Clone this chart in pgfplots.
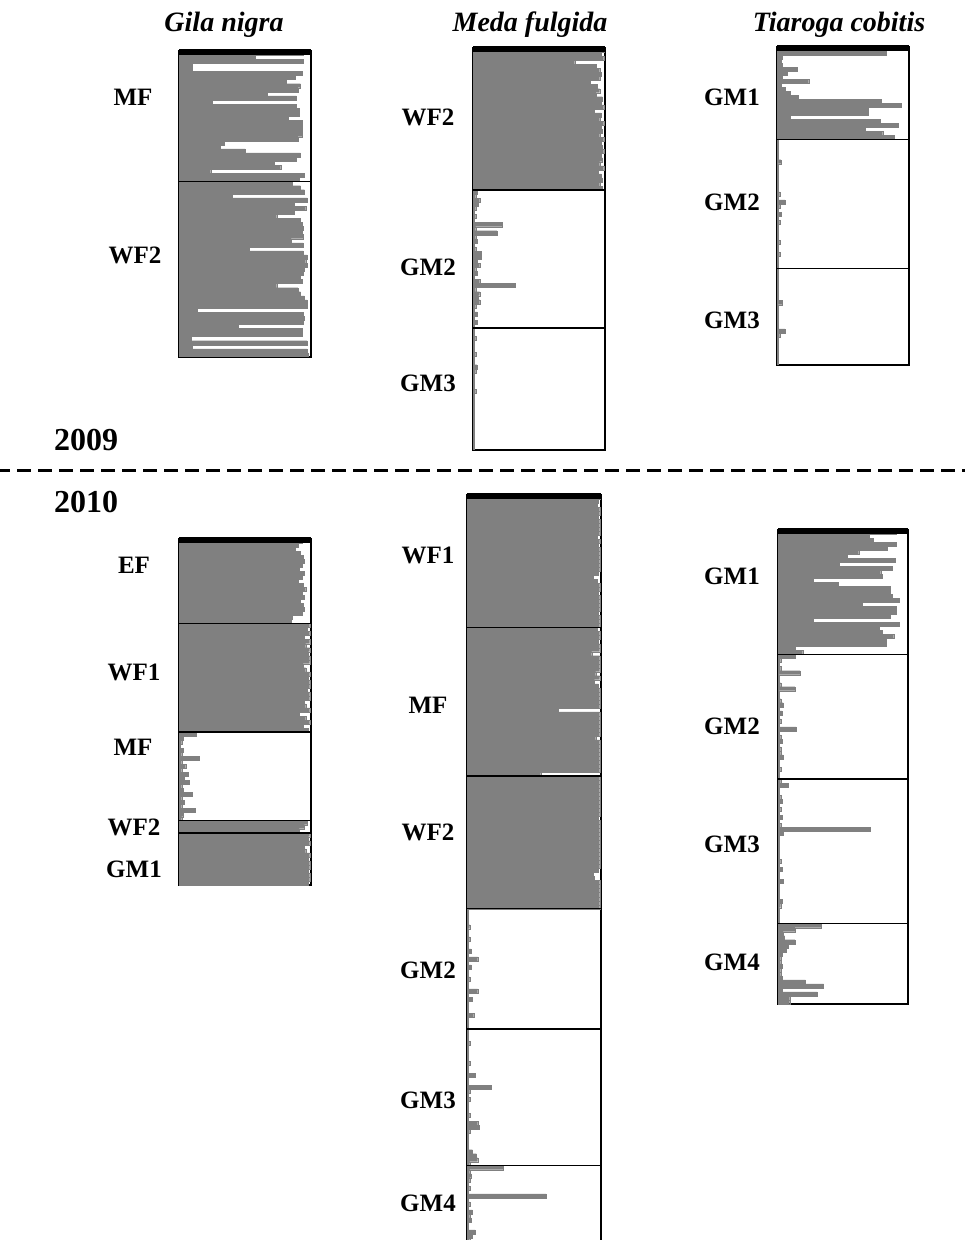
\documentclass[border=0pt]{standalone}
\usepackage{pgfplots}
\pgfplotsset{compat=1.18}
\usepackage{fontspec}
\setmainfont{Liberation Serif}
\definecolor{barg}{RGB}{128,128,128}
\newcommand{\lab}{\fontsize{12.5}{14}\selectfont\bfseries}
\newcommand{\ttl}{\fontsize{14}{16}\selectfont\bfseries\itshape}
\newcommand{\yr}{\fontsize{16}{18}\selectfont\bfseries}
\pgfplotsset{struct/.style={scale only axis, anchor=north west, xmin=0, xmax=1, ymin=0,
  y dir=reverse, axis line style={line width=1.2pt}, ticks=none, clip mode=individual,
  xbar, bar width=1},
  bars/.style={fill=barg, draw=barg, line width=0.1pt}}
\begin{document}
\begin{tikzpicture}[x=0.5pt,y=-0.5pt]
\useasboundingbox (0,0) rectangle (965,1240);
% titles
\node[font=\ttl] at (224,25) {Gila nigra};
\node[font=\ttl] at (530,25) {Meda fulgida};
\node[font=\ttl] at (839,25) {Tiaroga cobitis};
% years and divider
\node[font=\yr, anchor=west] at (47,440) {2009};
\node[font=\yr, anchor=west] at (47,502) {2010};
\draw[line width=1.5pt, dash pattern=on 7pt off 3.5pt, dash phase=2pt] (0,470) -- (965,470);
% ---------- 2009 Gila nigra ----------
\begin{axis}[struct, at={(89.5pt,-25.5pt)}, width=66pt, height=153pt, ymax=75]
\addplot[bars] coordinates {
(0.94,0.5) (0.58,1.5) (0.94,2.5) (0.10,3.5) (0.10,4.5) (0.93,5.5) (0.88,6.5) (0.81,7.5) (0.92,8.5) (0.90,9.5)
(0.67,10.5) (0.89,11.5) (0.25,12.5) (0.89,13.5) (0.91,14.5) (0.91,15.5) (0.83,16.5) (0.93,17.5) (0.93,18.5) (0.93,19.5)
(0.93,20.5) (0.90,21.5) (0.34,22.5) (0.31,23.5) (0.50,24.5) (0.92,25.5) (0.89,26.5) (0.72,27.5) (0.77,28.5) (0.24,29.5)
(0.95,30.5) (0.91,31.5) (0.86,32.5) (0.92,33.5) (0.95,34.5) (0.40,35.5) (0.97,36.5) (0.87,37.5) (0.96,38.5) (0.87,39.5)
(0.74,40.5) (0.92,41.5) (0.93,42.5) (0.94,43.5) (0.93,44.5) (0.94,45.5) (0.85,46.5) (0.94,47.5) (0.53,48.5) (0.94,49.5)
(0.97,50.5) (0.96,51.5) (0.97,52.5) (0.95,53.5) (0.94,54.5) (0.92,55.5) (0.93,56.5) (0.74,57.5) (0.90,58.5) (0.92,59.5)
(0.95,60.5) (0.97,61.5) (0.97,62.5) (0.14,63.5) (0.94,64.5) (0.95,65.5) (0.94,66.5) (0.45,67.5) (0.93,68.5) (0.93,69.5)
(0.09,70.5) (0.97,71.5) (0.10,72.5) (0.97,73.5) (0.98,74.5)};
\draw[line width=0.8pt] (axis cs:0,32) -- (axis cs:1,32);
\draw[line width=2.8pt] ([yshift=-0.6pt]axis cs:0,0) -- ([yshift=-0.6pt]axis cs:1,0);
\end{axis}
\node[font=\lab] at (133,97) {MF};
\node[font=\lab] at (135,255) {WF2};
% ---------- 2009 Meda fulgida ----------
\begin{axis}[struct, at={(236.5pt,-24pt)}, width=66pt, height=201pt, ymax=99]
\addplot[bars] coordinates {
(0.99,0.5) (0.97,1.5) (0.99,2.5) (0.77,3.5) (0.93,4.5) (0.96,5.5) (0.97,6.5) (0.96,7.5) (0.89,8.5) (0.94,9.5)
(0.96,10.5) (0.93,11.5) (0.98,12.5) (0.97,13.5) (0.99,14.5) (0.92,15.5) (0.97,16.5) (0.96,17.5) (0.99,18.5) (0.97,19.5)
(0.98,20.5) (0.96,21.5) (0.99,22.5) (0.97,23.5) (0.98,24.5) (0.99,25.5) (0.97,26.5) (0.98,27.5) (0.96,28.5) (0.99,29.5)
(0.95,30.5) (0.97,31.5) (0.98,32.5) (0.96,33.5) (0.98,34.5)
(0.03,35.5) (0.02,36.5) (0.05,37.5) (0.04,38.5) (0.02,39.5) (0.01,40.5) (0.02,41.5) (0.01,42.5) (0.22,43.5) (0.02,44.5)
(0.18,45.5) (0.02,46.5) (0.03,47.5) (0.01,48.5) (0.02,49.5) (0.06,50.5) (0.06,51.5) (0.03,52.5) (0.05,53.5) (0.02,54.5)
(0.03,55.5) (0.01,56.5) (0.05,57.5) (0.32,58.5) (0.02,59.5) (0.05,60.5) (0.04,61.5) (0.05,62.5) (0.02,63.5) (0.01,64.5)
(0.03,65.5) (0.01,66.5) (0.03,67.5) (0.01,68.5)
(0.01,69.5) (0.01,70.5) (0.02,71.5) (0.01,72.5) (0.01,73.5) (0.01,74.5) (0.02,75.5) (0.01,76.5) (0.01,77.5) (0.03,78.5)
(0.02,79.5) (0.01,80.5) (0.01,81.5) (0.01,82.5) (0.01,83.5) (0.02,84.5) (0.01,85.5) (0.01,86.5) (0.01,87.5) (0.01,88.5)
(0.01,89.5) (0.01,90.5) (0.01,91.5) (0.01,92.5) (0.01,93.5) (0.01,94.5) (0.01,95.5) (0.01,96.5) (0.01,97.5) (0.01,98.5)};
\draw[line width=0.8pt] (axis cs:0,35) -- (axis cs:1,35);
\draw[line width=0.8pt] (axis cs:0,69) -- (axis cs:1,69);
\draw[line width=2.8pt] ([yshift=-0.6pt]axis cs:0,0) -- ([yshift=-0.6pt]axis cs:1,0);
\end{axis}
\node[font=\lab] at (428,117) {WF2};
\node[font=\lab] at (428,267) {GM2};
\node[font=\lab] at (428,383) {GM3};
% ---------- 2009 Tiaroga cobitis ----------
\begin{axis}[struct, at={(388.5pt,-23.5pt)}, width=66pt, height=159pt, ymax=79]
\addplot[bars] coordinates {
(0.83,0.5) (0.83,1.5) (0.04,2.5) (0.03,3.5) (0.04,4.5) (0.15,5.5) (0.08,6.5) (0.04,7.5) (0.24,8.5) (0.03,9.5)
(0.06,10.5) (0.10,11.5) (0.16,12.5) (0.79,13.5) (0.94,14.5) (0.69,15.5) (0.69,16.5) (0.10,17.5) (0.78,18.5) (0.92,19.5)
(0.67,20.5) (0.80,21.5) (0.89,22.5)
(0.01,23.5) (0.01,24.5) (0.01,25.5) (0.01,26.5) (0.01,27.5) (0.03,28.5) (0.01,29.5) (0.01,30.5) (0.01,31.5) (0.01,32.5)
(0.01,33.5) (0.01,34.5) (0.01,35.5) (0.02,36.5) (0.01,37.5) (0.06,38.5) (0.02,39.5) (0.01,40.5) (0.03,41.5) (0.01,42.5)
(0.02,43.5) (0.01,44.5) (0.01,45.5) (0.01,46.5) (0.01,47.5) (0.02,48.5) (0.01,49.5) (0.01,50.5) (0.02,51.5) (0.01,52.5)
(0.01,53.5) (0.01,54.5)
(0.01,55.5) (0.01,56.5) (0.01,57.5) (0.01,58.5) (0.01,59.5) (0.01,60.5) (0.01,61.5) (0.01,62.5) (0.04,63.5) (0.01,64.5)
(0.01,65.5) (0.01,66.5) (0.01,67.5) (0.01,68.5) (0.01,69.5) (0.06,70.5) (0.02,71.5) (0.01,72.5) (0.01,73.5) (0.01,74.5)
(0.01,75.5) (0.01,76.5) (0.01,77.5) (0.01,78.5)};
\draw[line width=0.8pt] (axis cs:0,23) -- (axis cs:1,23);
\draw[line width=0.8pt] (axis cs:0,55) -- (axis cs:1,55);
\draw[line width=2.8pt] ([yshift=-0.6pt]axis cs:0,0) -- ([yshift=-0.6pt]axis cs:1,0);
\end{axis}
\node[font=\lab] at (732,97) {GM1};
\node[font=\lab] at (732,202) {GM2};
\node[font=\lab] at (732,320) {GM3};
% ---------- 2010 Gila nigra ----------
\begin{axis}[struct, at={(89.5pt,-269.5pt)}, width=66pt, height=173pt, ymax=86]
\addplot[bars] coordinates {
(0.93,0.5) (0.90,1.5) (0.88,2.5) (0.92,3.5) (0.94,4.5) (0.95,5.5) (0.93,6.5) (0.91,7.5) (0.95,8.5) (0.93,9.5)
(0.90,10.5) (0.94,11.5) (0.96,12.5) (0.93,13.5) (0.95,14.5) (0.92,15.5) (0.94,16.5) (0.95,17.5) (0.93,18.5) (0.86,19.5)
(0.85,20.5)
(0.99,21.5) (0.97,22.5) (0.99,23.5) (0.95,24.5) (0.99,25.5) (0.96,26.5) (0.99,27.5) (0.98,28.5) (0.99,29.5) (0.99,30.5)
(0.94,31.5) (0.96,32.5) (0.99,33.5) (0.98,34.5) (0.99,35.5) (0.99,36.5) (0.97,37.5) (0.99,38.5) (0.99,39.5) (0.95,40.5)
(0.96,41.5) (0.99,42.5) (0.91,43.5) (0.96,44.5) (0.99,45.5) (0.94,46.5) (0.98,47.5)
(0.13,48.5) (0.03,49.5) (0.02,50.5) (0.01,51.5) (0.03,52.5) (0.02,53.5) (0.15,54.5) (0.02,55.5) (0.05,56.5) (0.02,57.5)
(0.07,58.5) (0.04,59.5) (0.08,60.5) (0.02,61.5) (0.03,62.5) (0.10,63.5) (0.02,64.5) (0.04,65.5) (0.02,66.5) (0.12,67.5)
(0.03,68.5) (0.02,69.5)
(0.97,70.5) (0.95,71.5) (0.91,72.5)
(0.99,73.5) (0.98,74.5) (0.99,75.5) (0.95,76.5) (0.96,77.5) (0.99,78.5) (0.98,79.5) (0.99,80.5) (0.99,81.5) (0.98,82.5)
(0.99,83.5) (0.99,84.5) (0.98,85.5)};
\draw[line width=0.8pt] (axis cs:0,21) -- (axis cs:1,21);
\draw[line width=0.8pt] (axis cs:0,48) -- (axis cs:1,48);
\draw[line width=0.8pt] (axis cs:0,70) -- (axis cs:1,70);
\draw[line width=0.8pt] (axis cs:0,73) -- (axis cs:1,73);
\draw[line width=2.8pt] ([yshift=-0.6pt]axis cs:0,0) -- ([yshift=-0.6pt]axis cs:1,0);
\end{axis}
\node[font=\lab] at (134,565) {EF};
\node[font=\lab] at (134,672) {WF1};
\node[font=\lab] at (133,747) {MF};
\node[font=\lab] at (134,827) {WF2};
\node[font=\lab] at (134,869) {GM1};
% ---------- 2010 Meda fulgida ----------
\begin{axis}[struct, at={(233.5pt,-247.5pt)}, width=67pt, height=377.5pt, ymax=188]
\addplot[bars] coordinates {
(0.99,0.5) (0.98,1.5) (0.97,2.5) (0.99,3.5) (0.99,4.5) (0.98,5.5) (0.99,6.5) (0.99,7.5) (0.99,8.5) (0.99,9.5)
(0.97,10.5) (0.99,11.5) (0.98,12.5) (0.99,13.5) (0.99,14.5) (0.99,15.5) (0.99,16.5) (0.99,17.5) (0.99,18.5) (0.98,19.5)
(0.94,20.5) (0.97,21.5) (0.99,22.5) (0.99,23.5) (0.98,24.5) (0.99,25.5) (0.99,26.5) (0.99,27.5) (0.99,28.5) (0.98,29.5)
(0.99,30.5) (0.99,31.5) (0.99,32.5)
(0.97,33.5) (0.99,34.5) (0.99,35.5) (0.98,36.5) (0.99,37.5) (0.99,38.5) (0.93,39.5) (0.99,40.5) (0.99,41.5) (0.99,42.5)
(0.99,43.5) (0.96,44.5) (0.99,45.5) (0.95,46.5) (0.98,47.5) (0.99,48.5) (0.99,49.5) (0.99,50.5) (0.99,51.5) (0.99,52.5)
(0.68,53.5) (0.99,54.5) (0.99,55.5) (0.99,56.5) (0.99,57.5) (0.99,58.5) (0.99,59.5) (0.96,60.5) (0.99,61.5) (0.99,62.5)
(0.99,63.5) (0.99,64.5) (0.99,65.5) (0.99,66.5) (0.99,67.5) (0.99,68.5) (0.55,69.5)
(0.99,70.5) (0.99,71.5) (0.99,72.5) (0.99,73.5) (0.99,74.5) (0.99,75.5) (0.99,76.5) (0.99,77.5) (0.99,78.5) (0.99,79.5)
(0.98,80.5) (0.99,81.5) (0.99,82.5) (0.99,83.5) (0.99,84.5) (0.99,85.5) (0.99,86.5) (0.99,87.5) (0.99,88.5) (0.99,89.5)
(0.99,90.5) (0.99,91.5) (0.99,92.5) (0.98,93.5) (0.94,94.5) (0.95,95.5) (0.99,96.5) (0.99,97.5) (0.99,98.5) (0.99,99.5)
(0.99,100.5) (0.99,101.5) (0.99,102.5)
(0.01,103.5) (0.01,104.5) (0.01,105.5) (0.01,106.5) (0.02,107.5) (0.01,108.5) (0.01,109.5) (0.02,110.5) (0.01,111.5) (0.01,112.5)
(0.03,113.5) (0.01,114.5) (0.08,115.5) (0.01,116.5) (0.03,117.5) (0.01,118.5) (0.01,119.5) (0.02,120.5) (0.01,121.5) (0.01,122.5)
(0.08,123.5) (0.01,124.5) (0.04,125.5) (0.01,126.5) (0.01,127.5) (0.01,128.5) (0.05,129.5) (0.01,130.5) (0.01,131.5) (0.01,132.5)
(0.01,133.5) (0.01,134.5) (0.01,135.5) (0.02,136.5) (0.01,137.5) (0.01,138.5) (0.01,139.5) (0.01,140.5) (0.02,141.5) (0.01,142.5)
(0.01,143.5) (0.06,144.5) (0.01,145.5) (0.01,146.5) (0.18,147.5) (0.02,148.5) (0.01,149.5) (0.02,150.5) (0.01,151.5) (0.01,152.5)
(0.01,153.5) (0.02,154.5) (0.01,155.5) (0.08,156.5) (0.09,157.5) (0.02,158.5) (0.01,159.5) (0.01,160.5) (0.01,161.5) (0.01,162.5)
(0.04,163.5) (0.07,164.5) (0.08,165.5) (0.02,166.5)
(0.27,167.5) (0.02,168.5) (0.03,169.5) (0.02,170.5) (0.01,171.5) (0.02,172.5) (0.01,173.5) (0.59,174.5) (0.01,175.5) (0.02,176.5)
(0.01,177.5) (0.04,178.5) (0.02,179.5) (0.03,180.5) (0.01,181.5) (0.01,182.5) (0.06,183.5) (0.04,184.5) (0.02,185.5) (0.01,186.5)
(0.01,187.5)};
\draw[line width=0.8pt] (axis cs:0,33) -- (axis cs:1,33);
\draw[line width=0.8pt] (axis cs:0,70) -- (axis cs:1,70);
\draw[line width=0.8pt] (axis cs:0,103) -- (axis cs:1,103);
\draw[line width=0.8pt] (axis cs:0,133) -- (axis cs:1,133);
\draw[line width=0.8pt] (axis cs:0,167) -- (axis cs:1,167);
\draw[line width=2.8pt] ([yshift=-0.6pt]axis cs:0,0) -- ([yshift=-0.6pt]axis cs:1,0);
\end{axis}
\node[font=\lab] at (428,555) {WF1};
\node[font=\lab] at (428,705) {MF};
\node[font=\lab] at (428,832) {WF2};
\node[font=\lab] at (428,970) {GM2};
\node[font=\lab] at (428,1100) {GM3};
\node[font=\lab] at (428,1203) {GM4};
% ---------- 2010 Tiaroga cobitis ----------
\begin{axis}[struct, at={(389pt,-265pt)}, width=65pt, height=237pt, ymax=118]
\addplot[bars] coordinates {
(0.91,0.5) (0.70,1.5) (0.73,2.5) (0.91,3.5) (0.84,4.5) (0.62,5.5) (0.53,6.5) (0.90,7.5) (0.47,8.5) (0.88,9.5)
(0.79,10.5) (0.80,11.5) (0.27,12.5) (0.46,13.5) (0.86,14.5) (0.86,15.5) (0.88,16.5) (0.93,17.5) (0.65,18.5) (0.91,19.5)
(0.91,20.5) (0.86,21.5) (0.27,22.5) (0.93,23.5) (0.78,24.5) (0.80,25.5) (0.89,26.5) (0.83,27.5) (0.83,28.5) (0.13,29.5)
(0.19,30.5)
(0.13,31.5) (0.02,32.5) (0.01,33.5) (0.02,34.5) (0.17,35.5) (0.01,36.5) (0.01,37.5) (0.02,38.5) (0.13,39.5) (0.01,40.5)
(0.01,41.5) (0.02,42.5) (0.04,43.5) (0.01,44.5) (0.03,45.5) (0.01,46.5) (0.02,47.5) (0.01,48.5) (0.14,49.5) (0.01,50.5)
(0.02,51.5) (0.03,52.5) (0.01,53.5) (0.02,54.5) (0.02,55.5) (0.04,56.5) (0.01,57.5) (0.01,58.5) (0.02,59.5) (0.01,60.5)
(0.01,61.5)
(0.02,62.5) (0.08,63.5) (0.01,64.5) (0.01,65.5) (0.02,66.5) (0.03,67.5) (0.01,68.5) (0.02,69.5) (0.01,70.5) (0.03,71.5)
(0.01,72.5) (0.02,73.5) (0.71,74.5) (0.04,75.5) (0.01,76.5) (0.01,77.5) (0.01,78.5) (0.01,79.5) (0.01,80.5) (0.01,81.5)
(0.02,82.5) (0.01,83.5) (0.03,84.5) (0.01,85.5) (0.01,86.5) (0.04,87.5) (0.01,88.5) (0.01,89.5) (0.01,90.5) (0.01,91.5)
(0.03,92.5) (0.02,93.5) (0.01,94.5) (0.01,95.5) (0.01,96.5) (0.01,97.5)
(0.33,98.5) (0.13,99.5) (0.04,100.5) (0.05,101.5) (0.13,102.5) (0.08,103.5) (0.06,104.5) (0.03,105.5) (0.02,106.5) (0.02,107.5)
(0.03,108.5) (0.02,109.5) (0.02,110.5) (0.03,111.5) (0.21,112.5) (0.35,113.5) (0.03,114.5) (0.30,115.5) (0.09,116.5) (0.09,117.5)};
\draw[line width=0.8pt] (axis cs:0,31) -- (axis cs:1,31);
\draw[line width=0.8pt] (axis cs:0,62) -- (axis cs:1,62);
\draw[line width=0.8pt] (axis cs:0,98) -- (axis cs:1,98);
\draw[line width=2.8pt] ([yshift=-0.6pt]axis cs:0,0) -- ([yshift=-0.6pt]axis cs:1,0);
\end{axis}
\node[font=\lab] at (732,576) {GM1};
\node[font=\lab] at (732,726) {GM2};
\node[font=\lab] at (732,844) {GM3};
\node[font=\lab] at (732,962) {GM4};
\end{tikzpicture}
\end{document}
